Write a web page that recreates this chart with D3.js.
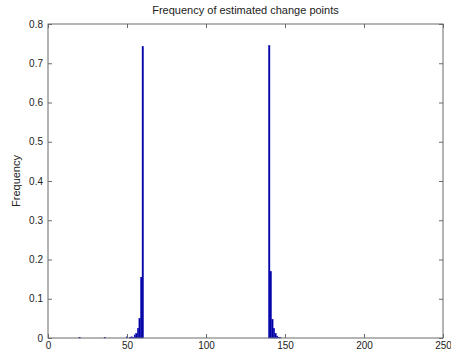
<!DOCTYPE html>
<html>
<head>
<meta charset="utf-8">
<script src="https://cdn.jsdelivr.net/npm/d3@7"></script>
<style>
  body { margin: 0; background: #fff; }
  text { font-family: "Liberation Sans", Arial, sans-serif; }
</style>
</head>
<body>
<div id="chart-area"></div>
<script>
// histogram bins (change point position) and their frequency
var bins = [20, 36, 50, 52, 53, 54, 55, 56, 57, 58, 59, 60,
            140, 141, 142, 143, 144, 145, 146, 147]
var freqs = [0.002, 0.002, 0.003, 0.002, 0.003, 0.002, 0.008, 0.012, 0.025, 0.05, 0.155, 0.743,
             0.745, 0.17, 0.048, 0.025, 0.012, 0.005, 0.002, 0.001]
var xTicks = [0, 50, 100, 150, 200, 250]
var yTicks = [0, 0.1, 0.2, 0.3, 0.4, 0.5, 0.6, 0.7, 0.8]

var margin = {top: 24, right: 8, bottom: 16, left: 48}
var W = 451, H = 354
var width = W - margin.left - margin.right
var height = H - margin.top - margin.bottom

var svg = d3.select("#chart-area").append("svg")
    .attr("width", W)
    .attr("height", H)

var g = svg.append("g")
    .attr("transform", `translate(${margin.left}, ${margin.top})`)

var x = d3.scaleLinear().domain([0, 250]).range([0, width])
var y = d3.scaleLinear().domain([0, 0.8]).range([height, 0])

var data = bins.map((b, i) => ({bin: b, f: freqs[i]}))

g.selectAll("rect.bar")
    .data(data)
    .enter()
    .append("rect")
    .attr("class", "bar")
    .attr("x", d => x(d.bin - 0.5))
    .attr("y", d => y(d.f))
    .attr("width", d => x(d.bin + 0.5) - x(d.bin - 0.5))
    .attr("height", d => height - y(d.f))
    .attr("fill", "#000096")
    .attr("stroke", "#1a1ad0")
    .attr("stroke-width", 0.4)

// axes, MATLAB style: inward ticks on all sides
var axisColor = "#6b6b6b"
function style(sel) {
    sel.select(".domain").remove()
    sel.selectAll("line").attr("stroke", axisColor)
    sel.selectAll("text").attr("fill", "#222").attr("font-size", "10px")
}
g.append("g").attr("transform", `translate(0, ${height})`)
    .call(d3.axisBottom(x).tickValues(xTicks).tickSize(-4).tickPadding(4).tickFormat(d3.format("d")))
    .call(style)
g.append("g")
    .call(d3.axisTop(x).tickValues(xTicks).tickSize(-4).tickFormat(""))
    .call(style)
g.append("g")
    .call(d3.axisLeft(y).tickValues(yTicks).tickSize(-4).tickPadding(5).tickFormat(d => d === 0 ? "0" : d3.format(".1f")(d)))
    .call(style)
g.append("g").attr("transform", `translate(${width}, 0)`)
    .call(d3.axisRight(y).tickValues(yTicks).tickSize(-4).tickFormat(""))
    .call(style)

g.append("rect")
    .attr("width", width)
    .attr("height", height)
    .attr("fill", "none")
    .attr("stroke", axisColor)
    .attr("stroke-width", 1)

g.append("text")
    .attr("x", width / 2)
    .attr("y", -10)
    .attr("text-anchor", "middle")
    .attr("font-size", "11px")
    .attr("fill", "#222")
    .text("Frequency of estimated change points")

g.append("text")
    .attr("transform", "rotate(-90)")
    .attr("x", -157)
    .attr("y", -28)
    .attr("text-anchor", "middle")
    .attr("font-size", "11px")
    .attr("fill", "#222")
    .text("Frequency")
</script>
</body>
</html>
